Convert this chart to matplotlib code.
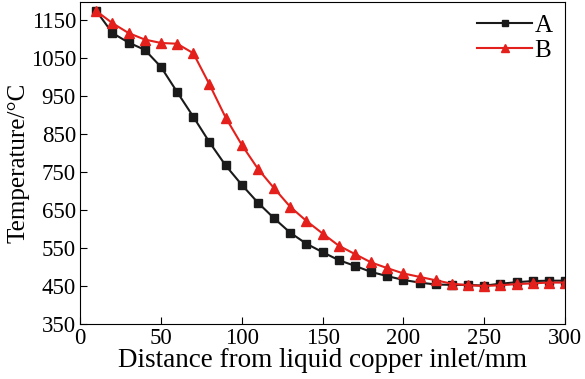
import matplotlib
matplotlib.use("Agg")
import matplotlib.pyplot as plt

plt.rcParams['font.family'] = ['Liberation Serif', 'DejaVu Sans']

distance = [10, 20, 30, 40, 50, 60, 70, 80, 90, 100, 110, 120, 130, 140, 150,
            160, 170, 180, 190, 200, 210, 220, 230, 240, 250, 260, 270, 280, 290, 300]
temp_a = [1173, 1115, 1090, 1071, 1026, 960, 895, 828, 767, 716, 669, 628, 590, 561, 539,
          518, 503, 487, 476, 466, 459, 454, 453, 453, 451, 456, 460, 463, 464, 464]
temp_b = [1173, 1141, 1115, 1098, 1089, 1087, 1062, 980, 893, 821, 758, 707, 658, 621, 588,
          556, 534, 512, 497, 483, 474, 465, 456, 452, 450, 452, 455, 457, 459, 459]

xticks = [0, 50, 100, 150, 200, 250, 300]
yticks = [350, 450, 550, 650, 750, 850, 950, 1050, 1150]

fig = plt.figure(figsize=(5.85, 3.79), dpi=100)
ax = fig.add_axes([0.137, 0.145, 0.829, 0.85])

ax.plot(distance, temp_a, color='#1a1a1a', marker='s', markersize=5.5, linewidth=1.5, label='A')
ax.plot(distance, temp_b, color='#e3201b', marker='^', markersize=7, linewidth=1.5, label='B')

ax.set_xlim(0, 300)
ax.set_ylim(350, 1197)
ax.set_xticks(xticks)
ax.set_yticks(yticks)
ax.tick_params(direction='in', labelsize=16.5, length=5, pad=3, top=False, right=False)

ax.set_xlabel('Distance from liquid copper inlet/mm', fontsize=19.5, labelpad=-1)
ax.set_ylabel('Temperature/°C', fontsize=18, labelpad=1)

ax.legend(loc='upper right', frameon=False, fontsize=18, handlelength=2.2,
          handletextpad=0.1, labelspacing=0.1, borderaxespad=0.1, markerscale=0.8)

fig.savefig('out.png', dpi=100)
